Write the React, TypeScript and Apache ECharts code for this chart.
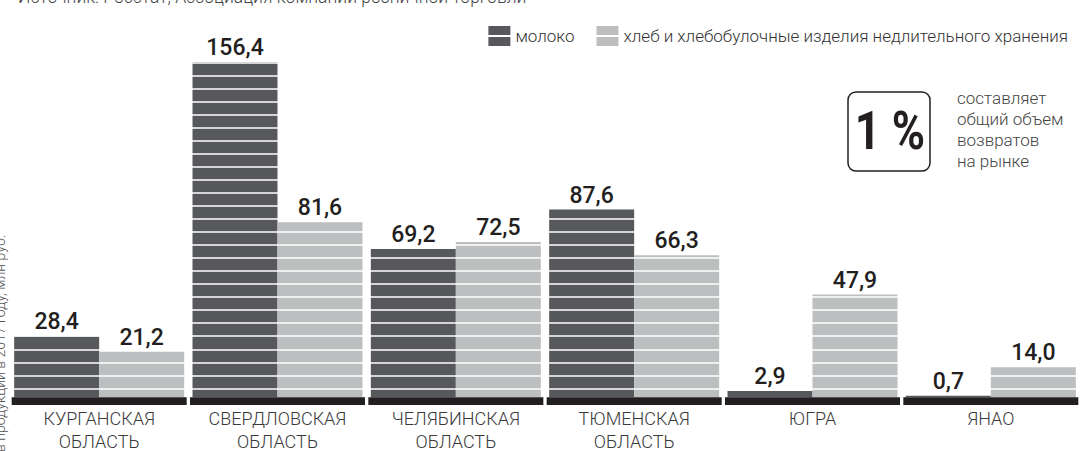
import React, { useEffect, useRef } from 'react';
import * as echarts from 'echarts';

const categories = [
  'КУРГАНСКАЯ\nОБЛАСТЬ',
  'СВЕРДЛОВСКАЯ\nОБЛАСТЬ',
  'ЧЕЛЯБИНСКАЯ\nОБЛАСТЬ',
  'ТЮМЕНСКАЯ\nОБЛАСТЬ',
  'ЮГРА',
  'ЯНАО',
];
const milk = [28.4, 156.4, 69.2, 87.6, 2.9, 0.7];
const bread = [21.2, 81.6, 72.5, 66.3, 47.9, 14.0];
const seriesNames = ['молоко', 'хлеб и хлебобулочные изделия недлительного хранения'];
const sourceText = 'Источник: Росстат, Ассоциация компаний розничной торговли';
const axisTitle = 'Объем возвратов продукции в 2017 году, млн руб.';
const noteValue = '1 %';
const noteLines = ['составляет', 'общий объем', 'возвратов', 'на рынке'];

const DARK = '#57585b';
const LIGHT = '#bdbec0';
const BLACK = '#231f20';
const FONT = 'Roboto, "Noto Sans", sans-serif';

const fmt = (v: number) => v.toFixed(1).replace('.', ',');

export default function App() {
  const ref = useRef<HTMLDivElement>(null);
  useEffect(() => {
    if (!ref.current) return;
    const chart = echarts.init(ref.current, null, { renderer: 'svg' });
    const bandDepth = categories.map(() => -3.6);
    const labelCfg = {
      show: true,
      position: 'top',
      distance: 3,
      fontSize: 23,
      fontWeight: 500,
      fontFamily: FONT,
      color: BLACK,
      formatter: (p: any) => fmt(p.value),
    };
    chart.setOption({
      animation: false,
      textStyle: { fontFamily: FONT },
      grid: {
        left: 10,
        right: 1,
        top: 20,
        bottom: 36.55,
        containLabel: false,
        outerBoundsMode: 'none',
      },
      legend: {
        right: 8,
        top: 21,
        itemWidth: 22,
        itemHeight: 20,
        itemGap: 22,
        selectedMode: false,
        icon: 'path://M0 0H22V9H0Z M0 11H22V20H0Z',
        data: seriesNames,
        textStyle: { fontSize: 17, color: '#333', fontFamily: FONT, fontWeight: 300 },
      },
      xAxis: [
        {
          type: 'category',
          data: categories,
          z: 4,
          offset: -17.15,
          axisLine: { show: false, onZero: false },
          axisTick: { show: false },
          axisLabel: {
            margin: 9.5,
            fontSize: 18,
            fontWeight: 300,
            lineHeight: 23,
            color: '#3a3a3a',
            fontFamily: FONT,
            interval: 0,
          },
        },
        { type: 'category', data: categories, show: false },
        { type: 'category', data: categories, show: false },
      ],
      yAxis: [
        {
          type: 'value',
          min: -8,
          max: 176,
          axisLine: { show: false },
          axisTick: { show: false },
          axisLabel: { show: false },
          splitLine: { show: false },
        },
        {
          type: 'value',
          min: 0,
          max: 30.25,
          interval: 1,
          z: 3,
          axisLine: { show: false },
          axisTick: { show: false },
          axisLabel: { show: false },
          splitLine: { show: true, lineStyle: { color: '#ffffff', width: 1.5 } },
        },
      ],
      series: [
        {
          name: seriesNames[0],
          type: 'bar',
          data: milk,
          barWidth: 85,
          barGap: '0%',
          itemStyle: { color: DARK },
          z: 2,
        },
        {
          name: seriesNames[1],
          type: 'bar',
          data: bread,
          barWidth: 85,
          barGap: '0%',
          itemStyle: { color: LIGHT },
          z: 2,
        },
        {
          name: 'base',
          type: 'bar',
          xAxisIndex: 1,
          data: bandDepth,
          barWidth: 175,
          itemStyle: { color: BLACK },
          z: 5,
          silent: true,
        },
        {
          name: 'milk-label',
          type: 'bar',
          xAxisIndex: 2,
          data: milk,
          barWidth: 85,
          barGap: '0%',
          itemStyle: { color: 'rgba(0,0,0,0)' },
          label: labelCfg,
          z: 6,
          silent: true,
        },
        {
          name: 'bread-label',
          type: 'bar',
          xAxisIndex: 2,
          data: bread,
          barWidth: 85,
          barGap: '0%',
          itemStyle: { color: 'rgba(0,0,0,0)' },
          label: labelCfg,
          z: 6,
          silent: true,
        },
      ],
      graphic: [
        {
          type: 'text',
          x: 18,
          y: -12,
          z: 10,
          style: {
            text: sourceText,
            fontSize: 17.5,
            fontWeight: 300,
            fontFamily: FONT,
            fill: '#444',
            align: 'left',
            verticalAlign: 'top',
          },
        },
        {
          type: 'text',
          x: 0,
          y: 235,
          rotation: Math.PI / 2,
          z: 10,
          style: {
            text: axisTitle,
            fontSize: 14,
            fontWeight: 300,
            fontFamily: FONT,
            fill: '#555',
            align: 'right',
            verticalAlign: 'middle',
          },
        },
        {
          type: 'rect',
          z: 10,
          shape: { x: 848, y: 92, width: 82, height: 79, r: 8 },
          style: { fill: '#fff', stroke: BLACK, lineWidth: 1.5 },
        },
        {
          type: 'text',
          x: 890,
          y: 131,
          scaleX: 0.85,
          z: 11,
          style: {
            text: noteValue,
            fontSize: 53,
            fontWeight: 'bold',
            fontFamily: FONT,
            fill: BLACK,
            align: 'center',
            verticalAlign: 'middle',
          },
        },
        {
          type: 'text',
          x: 957,
          y: 87,
          z: 11,
          style: {
            text: noteLines.join('\n'),
            fontSize: 17,
            lineHeight: 21,
            fontWeight: 300,
            fontFamily: FONT,
            fill: '#444',
            align: 'left',
            verticalAlign: 'top',
          },
        },
      ],
    });
    return () => chart.dispose();
  }, []);
  return (
    <div
      ref={ref}
      style={{ position: 'absolute', left: 0, top: 0, width: 1081, height: 451, background: '#fff' }}
    />
  );
}
